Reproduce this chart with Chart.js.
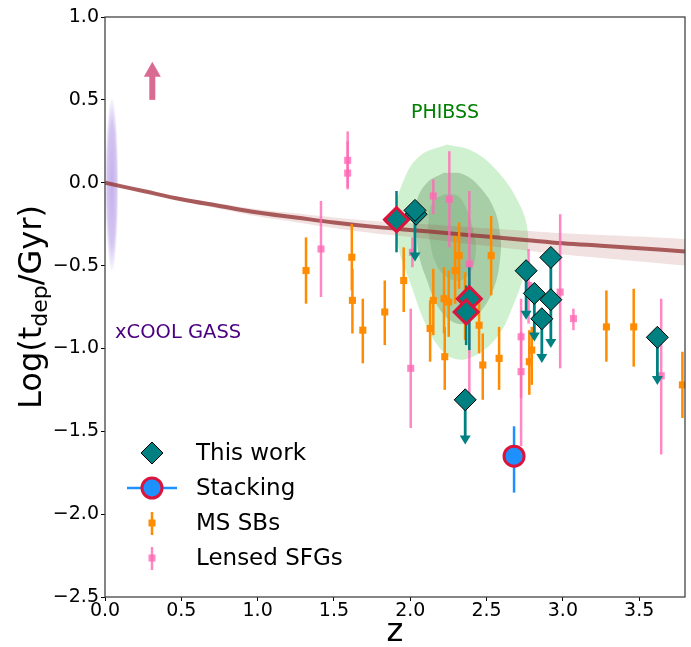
<!DOCTYPE html>
<html>
<head>
<meta charset="utf-8">
<title>Depletion time vs redshift</title>
<script src="https://cdn.jsdelivr.net/npm/chart.js@4.4.1/dist/chart.umd.min.js"></script>
<style>
  html, body { margin: 0; padding: 0; background: #fff; }
  canvas { display: block; }
</style>
</head>
<body>
<canvas id="tdepChart" width="691" height="647"></canvas>
<script>
// ---- This work: detections (crimson edge) ----
const detZ  = [1.91, 2.387, 2.366];
const detT  = [-0.223, -0.70, -0.78];
const detHi = [-0.05, -0.51, -0.62];
const detLo = [-0.42, -1.01, -0.98];

// ---- This work: upper limits (arrow down to limTo) ----
const limZ  = [2.038, 2.031, 2.36, 2.759, 2.921, 2.813, 2.921, 2.862, 3.619];
const limT  = [-0.19, -0.167, -1.31, -0.531, -0.706, -0.668, -0.451, -0.821, -0.933];
const limTo = [null, -0.475, -1.58, -0.827, null, -0.958, -0.998, -1.088, -1.22];

// ---- Stacking ----
const stackZ  = [2.68];
const stackT  = [-1.65];
const stackHi = [-1.47];
const stackLo = [-1.87];

// ---- MS starbursts ----
const sbZ  = [1.317, 1.617, 1.621, 1.689, 1.833, 1.957, 2.151, 2.130, 2.221, 2.226, 2.252, 2.294,
              2.320, 2.359, 2.451, 2.475, 2.530, 2.582, 2.780, 2.796, 3.285, 3.464, 3.783];
const sbT  = [-0.53, -0.45, -0.71, -0.89, -0.78, -0.59, -0.71, -0.88, -0.70, -1.05, -0.72, -0.53,
              -0.44, -0.74, -0.86, -1.10, -0.44, -1.06, -1.08, -1.01, -0.87, -0.87, -1.22];
const sbHi = [-0.33, -0.25, -0.52, -0.70, -0.59, -0.39, -0.52, -0.71, -0.51, -0.87, -0.53, -0.32,
              -0.24, -0.54, -0.70, -0.91, -0.20, -0.87, -0.89, -0.87, -0.65, -0.64, -1.02];
const sbLo = [-0.73, -0.65, -0.91, -1.09, -0.98, -0.78, -0.92, -1.08, -0.91, -1.25, -0.93, -0.73,
              -0.64, -0.95, -1.03, -1.31, -0.68, -1.25, -1.28, -1.22, -1.08, -1.11, -1.42];

// ---- Lensed SFGs ----
const lensZ  = [1.590, 1.590, 1.415, 2.003, 2.014, 2.151, 2.256, 2.387, 2.726, 2.726, 2.775, 2.982, 3.069, 3.644];
const lensT  = [0.135, 0.058, -0.40, -1.12, -0.42, -0.08, -0.10, -0.49, -0.93, -1.14, -0.62, -0.66, -0.82, -1.165];
const lensHi = [0.31, 0.25, -0.11, -0.76, -0.33, 0.02, 0.19, -0.05, -0.70, -0.90, -0.40, -0.19, -0.76, -0.70];
const lensLo = [-0.03, -0.04, -0.69, -1.48, -0.51, -0.19, -0.39, -1.29, -1.30, -1.59, -0.85, -1.12, -0.89, -1.64];

// ---- scaling relation and its uncertainty band ----
const relZ  = [0, 0.25, 0.5, 0.75, 1.0, 1.25, 1.5, 1.75, 2.0, 2.25, 2.5, 2.75, 3.0, 3.25, 3.5, 3.8];
const relT  = [0, -0.05, -0.10, -0.14, -0.18, -0.21, -0.24, -0.265, -0.285, -0.305, -0.325, -0.345, -0.365, -0.38, -0.395, -0.415];
const relUp = [0, -0.045, -0.09, -0.125, -0.16, -0.185, -0.21, -0.23, -0.245, -0.26, -0.275, -0.29, -0.305, -0.315, -0.325, -0.34];
const relDn = [0, -0.055, -0.11, -0.157, -0.203, -0.238, -0.273, -0.303, -0.328, -0.354, -0.38, -0.407, -0.433, -0.454, -0.475, -0.50];

// ---- PHIBSS density contours ----
const phOuterZ = [2.24, 2.06, 1.95, 1.90, 1.93, 2.01, 2.08, 2.17, 2.28, 2.41, 2.57, 2.67, 2.75, 2.77, 2.71, 2.57, 2.41, 2.24];
const phOuterT = [0.23, 0.16, 0.00, -0.20, -0.42, -0.63, -0.81, -0.97, -1.06, -1.05, -0.93, -0.75, -0.53, -0.30, -0.12, 0.07, 0.19, 0.23];
const phMidZ = [2.22, 2.11, 2.04, 2.04, 2.06, 2.11, 2.17, 2.26, 2.36, 2.46, 2.55, 2.59, 2.59, 2.55, 2.46, 2.35, 2.22];
const phMidT = [0.06, 0.00, -0.12, -0.28, -0.45, -0.59, -0.73, -0.83, -0.85, -0.78, -0.63, -0.45, -0.32, -0.16, -0.03, 0.05, 0.06];
const phInZ = [2.22, 2.15, 2.12, 2.13, 2.17, 2.24, 2.33, 2.40, 2.43, 2.41, 2.37, 2.31, 2.22];
const phInT = [-0.07, -0.11, -0.22, -0.36, -0.49, -0.57, -0.59, -0.53, -0.40, -0.28, -0.16, -0.08, -0.07];

// ---- xCOOL GASS locus and the local lower-limit arrow ----
const xcoolZ = 0.045, xcoolT = -0.01, xcoolDz = 0.042, xcoolDt = 0.52;
const upArrowZ = 0.31, upArrowFrom = 0.50, upArrowTo = 0.73;

const FONT = "'DejaVu Sans', 'Liberation Sans', sans-serif";
const TEAL = '#008080';
const PINK = 'rgba(255,105,180,0.8)';
const ORANGE = '#ff8c00';

const pts = (xs, ys) => xs.map((x, i) => ({ x: x, y: ys[i] }));

// error bars and upper-limit arrows, drawn just under each dataset's markers
const errorBars = {
    id: 'errorBars',
    beforeDatasetDraw(chart, args) {
        const ds = chart.data.datasets[args.index];
        if (!ds.errHi && !ds.limitTo) return;
        const { ctx, chartArea: a, scales: { x, y } } = chart;
        ctx.save();
        ctx.beginPath();
        ctx.rect(a.left, a.top, a.width, a.height);
        ctx.clip();
        ds.data.forEach((p, i) => {
            const px = x.getPixelForValue(p.x);
            if (ds.errHi) {
                ctx.strokeStyle = ds.errColor;
                ctx.lineWidth = ds.errWidth;
                ctx.beginPath();
                ctx.moveTo(px, y.getPixelForValue(ds.errHi[i]));
                ctx.lineTo(px, y.getPixelForValue(ds.errLo[i]));
                ctx.stroke();
            }
            if (ds.limitTo && ds.limitTo[i] != null) {
                const y0 = y.getPixelForValue(p.y);
                const y1 = y.getPixelForValue(ds.limitTo[i]);
                ctx.strokeStyle = TEAL;
                ctx.fillStyle = TEAL;
                ctx.lineWidth = 2.8;
                ctx.beginPath();
                ctx.moveTo(px, y0);
                ctx.lineTo(px, y1 - 8);
                ctx.stroke();
                ctx.beginPath();
                ctx.moveTo(px - 5.5, y1 - 9);
                ctx.lineTo(px + 5.5, y1 - 9);
                ctx.lineTo(px, y1);
                ctx.closePath();
                ctx.fill();
            }
        });
        ctx.restore();
    }
};

// background decorations, frame, axis titles, annotations and legend
const decorations = {
    id: 'decorations',
    beforeDatasetsDraw(chart) {
        const { ctx, chartArea: a, scales: { x, y } } = chart;
        ctx.save();
        ctx.beginPath();
        ctx.rect(a.left, a.top, a.width, a.height);
        ctx.clip();

        // xCOOL GASS ellipse
        const cx = x.getPixelForValue(xcoolZ), cy = y.getPixelForValue(xcoolT);
        const rx = x.getPixelForValue(xcoolZ + xcoolDz) - cx;
        const ry = cy - y.getPixelForValue(xcoolT + xcoolDt);
        ctx.save();
        ctx.translate(cx, cy);
        ctx.scale(1, ry / rx);
        const g = ctx.createRadialGradient(0, 0, 0, 0, 0, rx);
        g.addColorStop(0, 'rgba(147,112,219,0.55)');
        g.addColorStop(0.7, 'rgba(147,112,219,0.4)');
        g.addColorStop(1, 'rgba(147,112,219,0.05)');
        ctx.fillStyle = g;
        ctx.beginPath();
        ctx.arc(0, 0, rx, 0, Math.PI * 2);
        ctx.fill();
        ctx.restore();

        // upward arrow
        const ax = x.getPixelForValue(upArrowZ);
        const ay0 = y.getPixelForValue(upArrowFrom), ay1 = y.getPixelForValue(upArrowTo);
        ctx.fillStyle = '#d96a91';
        ctx.fillRect(ax - 3, ay1 + 14, 6, ay0 - ay1 - 14);
        ctx.beginPath();
        ctx.moveTo(ax - 8.5, ay1 + 15);
        ctx.lineTo(ax + 8.5, ay1 + 15);
        ctx.lineTo(ax, ay1);
        ctx.closePath();
        ctx.fill();

        // labels
        ctx.font = '19px ' + FONT;
        ctx.textBaseline = 'alphabetic';
        ctx.fillStyle = '#008000';
        ctx.textAlign = 'center';
        ctx.fillText('PHIBSS', x.getPixelForValue(2.228), y.getPixelForValue(0.39));
        ctx.fillStyle = '#4b0082';
        ctx.textAlign = 'left';
        ctx.font = '19.5px ' + FONT;
        ctx.fillText('xCOOL GASS', x.getPixelForValue(0.066), y.getPixelForValue(-0.94));
        ctx.restore();
    },
    afterDraw(chart) {
        const { ctx, chartArea: a, scales: { x } } = chart;
        ctx.save();

        // frame
        ctx.strokeStyle = '#444';
        ctx.lineWidth = 1.3;
        ctx.strokeRect(a.left, a.top, a.width, a.height);

        // x tick labels, placed from the scale's own ticks
        ctx.fillStyle = '#000';
        ctx.font = '19px ' + FONT;
        ctx.textAlign = 'center';
        ctx.textBaseline = 'alphabetic';
        x.ticks.forEach(t => ctx.fillText(t.value.toFixed(1), x.getPixelForValue(t.value), a.bottom + 19));

        // x title
        ctx.font = '32px ' + FONT;
        ctx.fillText('z', (a.left + a.right) / 2, 641);

        // y title with subscript
        ctx.save();
        ctx.translate(41, (a.top + a.bottom) / 2);
        ctx.rotate(-Math.PI / 2);
        ctx.textAlign = 'left';
        const big = '32px ' + FONT, small = '22px ' + FONT;
        ctx.font = big;
        const w1 = ctx.measureText('Log(t').width;
        const w3 = ctx.measureText('/Gyr)').width;
        ctx.font = small;
        const w2 = ctx.measureText('dep').width;
        let xs = -(w1 + w2 + w3) / 2;
        ctx.font = big;
        ctx.fillText('Log(t', xs, 0);
        xs += w1;
        ctx.font = small;
        ctx.fillText('dep', xs, 6);
        xs += w2;
        ctx.font = big;
        ctx.fillText('/Gyr)', xs, 0);
        ctx.restore();

        // legend
        const lx = 152, tx = 196;
        const rows = [453, 488, 523, 558];
        ctx.font = '23px ' + FONT;
        ctx.textBaseline = 'middle';
        ctx.textAlign = 'left';
        ctx.fillStyle = '#000';
        ['This work', 'Stacking', 'MS SBs', 'Lensed SFGs'].forEach((t, i) => ctx.fillText(t, tx, rows[i] + 1));

        // This work marker
        ctx.beginPath();
        ctx.moveTo(lx - 11, rows[0]);
        ctx.lineTo(lx, rows[0] - 11);
        ctx.lineTo(lx + 11, rows[0]);
        ctx.lineTo(lx, rows[0] + 11);
        ctx.closePath();
        ctx.fillStyle = TEAL;
        ctx.fill();
        ctx.strokeStyle = '#000';
        ctx.lineWidth = 1;
        ctx.stroke();

        // Stacking marker
        ctx.strokeStyle = '#1e90ff';
        ctx.lineWidth = 2.5;
        ctx.beginPath();
        ctx.moveTo(lx - 25, rows[1]);
        ctx.lineTo(lx + 25, rows[1]);
        ctx.stroke();
        ctx.beginPath();
        ctx.arc(lx, rows[1], 10, 0, Math.PI * 2);
        ctx.fillStyle = '#1e90ff';
        ctx.fill();
        ctx.strokeStyle = '#dc143c';
        ctx.lineWidth = 3;
        ctx.stroke();

        // MS SBs and Lensed SFGs markers
        [[ORANGE, rows[2]], [PINK, rows[3]]].forEach(([c, ry]) => {
            ctx.strokeStyle = c;
            ctx.fillStyle = c;
            ctx.lineWidth = 2.5;
            ctx.beginPath();
            ctx.moveTo(lx, ry - 11);
            ctx.lineTo(lx, ry + 12);
            ctx.stroke();
            ctx.fillRect(lx - 3.5, ry - 3.5, 7, 7);
        });
        ctx.restore();
    }
};

const ctx = document.getElementById('tdepChart').getContext('2d');

new Chart(ctx, {
    type: 'scatter',
    data: {
        datasets: [
            {
                label: 'Stacking', data: pts(stackZ, stackT), order: 0,
                pointStyle: 'circle', pointRadius: 10, backgroundColor: '#1e90ff',
                borderColor: '#dc143c', borderWidth: 3,
                errHi: stackHi, errLo: stackLo, errColor: '#1e90ff', errWidth: 2.5
            },
            {
                label: 'This work (detections)', data: pts(detZ, detT), order: 1,
                pointStyle: 'rectRot', pointRadius: 12, backgroundColor: TEAL,
                borderColor: '#dc143c', borderWidth: 3,
                errHi: detHi, errLo: detLo, errColor: TEAL, errWidth: 2.5
            },
            {
                label: 'This work', data: pts(limZ, limT), order: 2,
                pointStyle: 'rectRot', pointRadius: 11, backgroundColor: TEAL,
                borderColor: '#000', borderWidth: 1,
                limitTo: limTo
            },
            {
                label: 'Lensed SFGs', data: pts(lensZ, lensT), order: 3,
                pointStyle: 'rect', pointRadius: 5, backgroundColor: PINK, borderWidth: 0,
                errHi: lensHi, errLo: lensLo, errColor: PINK, errWidth: 2.5
            },
            {
                label: 'MS SBs', data: pts(sbZ, sbT), order: 4,
                pointStyle: 'rect', pointRadius: 5, backgroundColor: ORANGE, borderWidth: 0,
                errHi: sbHi, errLo: sbLo, errColor: ORANGE, errWidth: 2.5
            },
            {
                label: 'relation', data: pts(relZ, relT), order: 5, showLine: true,
                borderColor: 'rgba(150,55,55,0.8)', borderWidth: 4, pointRadius: 0, tension: 0.4, fill: false
            },
            {
                label: 'band upper', data: pts(relZ, relUp), order: 6, showLine: true,
                borderWidth: 0, pointRadius: 0, tension: 0.4,
                fill: '+1', backgroundColor: 'rgba(165,42,42,0.14)'
            },
            {
                label: 'band lower', data: pts(relZ, relDn), order: 7, showLine: true,
                borderWidth: 0, pointRadius: 0, tension: 0.4, fill: false
            },
            {
                label: 'PHIBSS inner', data: pts(phInZ, phInT), order: 8, showLine: true,
                borderWidth: 0, pointRadius: 0, tension: 0.4,
                fill: 'shape', backgroundColor: 'rgba(100,150,100,0.27)'
            },
            {
                label: 'PHIBSS middle', data: pts(phMidZ, phMidT), order: 9, showLine: true,
                borderWidth: 0, pointRadius: 0, tension: 0.4,
                fill: 'shape', backgroundColor: 'rgba(100,150,100,0.38)'
            },
            {
                label: 'PHIBSS outer', data: pts(phOuterZ, phOuterT), order: 10, showLine: true,
                borderWidth: 0, pointRadius: 0, tension: 0.4,
                fill: 'shape', backgroundColor: 'rgba(150,225,150,0.45)'
            }
        ]
    },
    options: {
        responsive: false,
        animation: false,
        events: [],
        // markers may run past the frame; keep the plot box fixed
        layout: { autoPadding: false, padding: { top: 17, right: 6, left: 0, bottom: 0 } },
        plugins: { legend: { display: false }, tooltip: { enabled: false } },
        scales: {
            x: {
                type: 'linear', min: 0, max: 3.8,
                afterFit: s => { s.height = 50; },
                ticks: { display: false, stepSize: 0.5, includeBounds: false },
                grid: { drawOnChartArea: false, tickLength: 4, color: '#000' },
                border: { display: false }
            },
            y: {
                type: 'linear', min: -2.5, max: 1.0,
                afterFit: s => { s.width = 105; },
                ticks: {
                    stepSize: 0.5, includeBounds: false, autoSkip: false,
                    padding: 2, color: '#000', font: { family: FONT, size: 19 },
                    callback: v => (v < 0 ? '\u2212' : '') + Math.abs(v).toFixed(1)
                },
                grid: { drawOnChartArea: false, tickLength: 4, color: '#000' },
                border: { display: false }
            }
        }
    },
    plugins: [errorBars, decorations]
});
</script>
</body>
</html>
